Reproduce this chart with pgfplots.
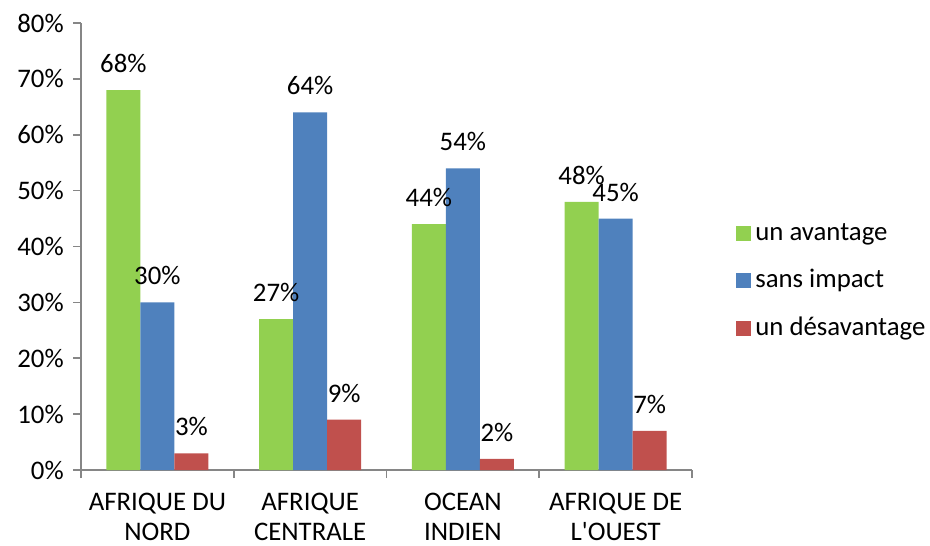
\documentclass[border=0pt]{standalone}
\usepackage{pgfplots}
\pgfplotsset{compat=1.18}
\usepackage{fontspec}
\setmainfont{Carlito}
\definecolor{cgreen}{HTML}{92D050}
\definecolor{cblue}{HTML}{4F81BD}
\definecolor{cred}{HTML}{C0504D}
\definecolor{axgray}{HTML}{868686}
\begin{document}
\begin{tikzpicture}
\fontsize{13.4}{15}\selectfont
\begin{axis}[
    width=305.5pt, height=223.5pt, scale only axis,
    ybar=0pt, bar width=17pt,
    ymin=0, ymax=80, ytick={0,10,...,80},
    xmin=-0.5, xmax=3.5,
    xtick={0,1,2,3},
    xticklabels={{AFRIQUE DU\\NORD},{AFRIQUE\\CENTRALE},{OCEAN\\INDIEN},{AFRIQUE DE\\L\textquotesingle OUEST}},
    x tick label style={align=center, font=\fontsize{13.4}{15}\selectfont, yshift=-3pt},
    major x tick style={draw=none},
    minor xtick={-0.5,0.5,1.5,2.5,3.5},
    minor tick length=4pt,
    major tick length=4pt,
    tick align=outside,
    axis x line*=bottom, axis y line*=left,
    axis line style={axgray, line width=0.8pt},
    y tick style={axgray, line width=0.8pt},
    minor x tick style={axgray, line width=0.8pt},
    /pgf/number format/assume math mode=true,
    yticklabel={\pgfmathprintnumber{\tick}\%},
    y tick label style={font=\fontsize{13.4}{15}\selectfont},
    nodes near coords={\pgfmathprintnumber{\pgfplotspointmeta}\%},
    every node near coord/.append style={font=\fontsize{13.4}{15}\selectfont, anchor=south, yshift=4pt},
    legend style={draw=none, at={(rel axis cs:1.062,0.422)}, anchor=west,
        font=\fontsize{13.4}{15}\selectfont, row sep=8.5pt,
        nodes={inner sep=2pt}},
    legend cell align=left,
    legend image code/.code={\fill[#1] (0pt,-3.75pt) rectangle (7.5pt,3.75pt);},
]
\addplot[draw=none, fill=cgreen] coordinates {(0,68) (1,27) (2,44) (3,48)};
\addplot[draw=none, fill=cblue] coordinates {(0,30) (1,64) (2,54) (3,45)};
\addplot[draw=none, fill=cred] coordinates {(0,3) (1,9) (2,2) (3,7)};
\legend{un avantage, sans impact, un désavantage}
\coordinate (bl) at (rel axis cs:-0.1326,-0.1678);
\coordinate (tr) at (rel axis cs:1.3895,1.0515);
\end{axis}
\pgfresetboundingbox
\path (bl) rectangle (tr);
\end{tikzpicture}
\end{document}
